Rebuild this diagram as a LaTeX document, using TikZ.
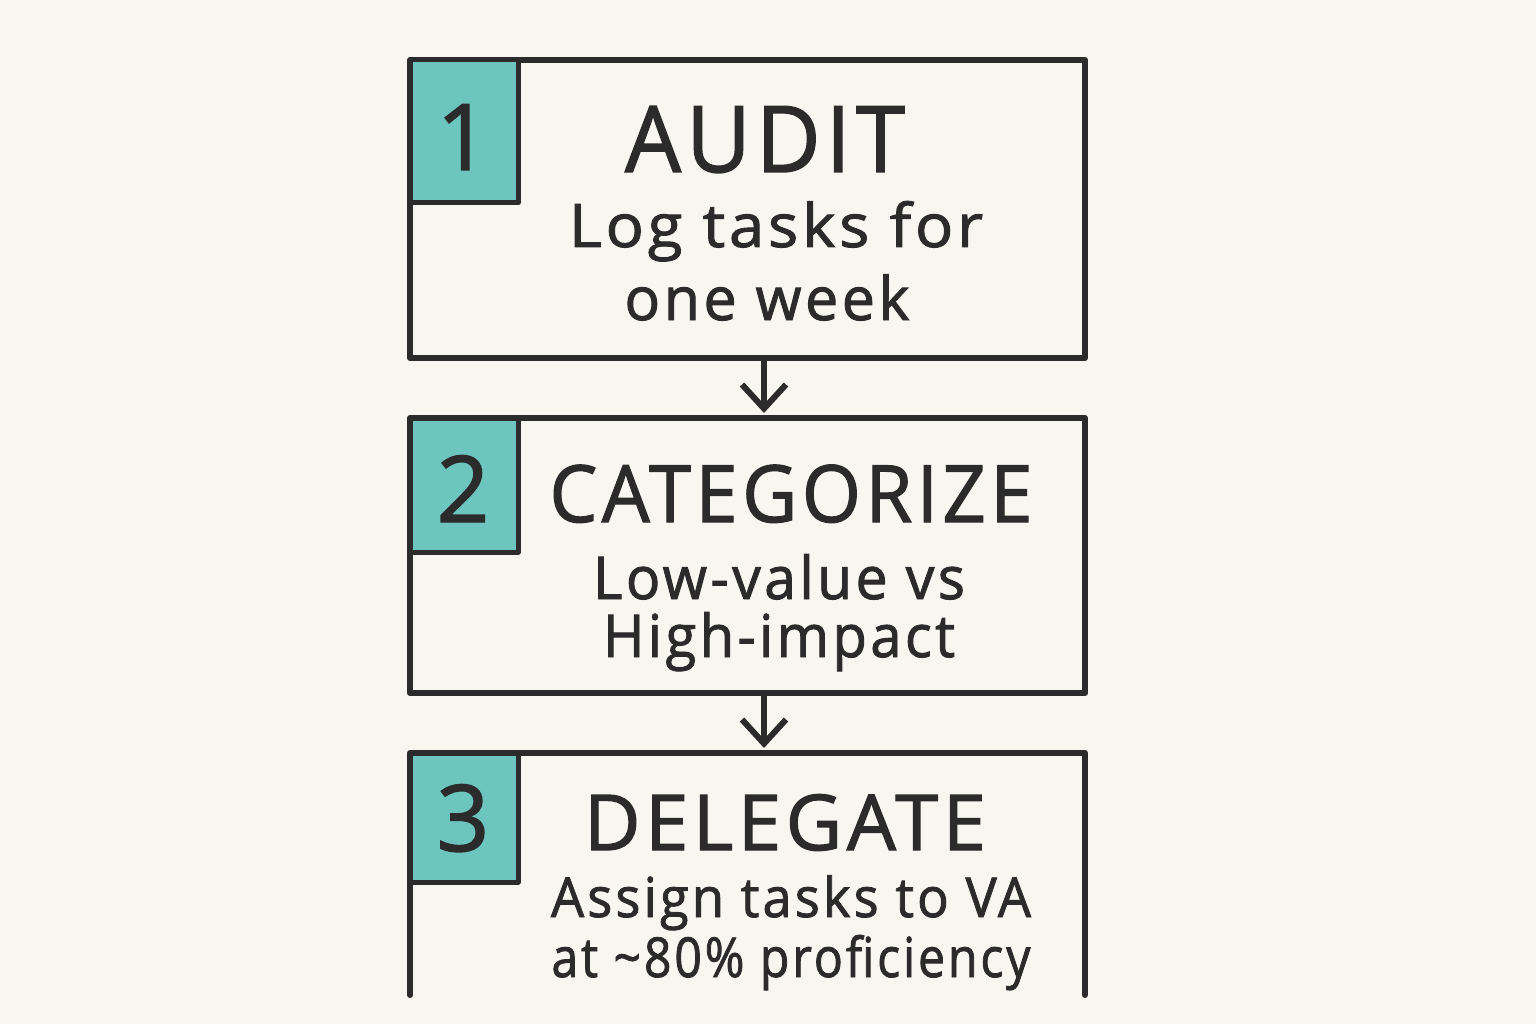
\documentclass[tikz,border=0pt]{standalone}
\usepackage{fontspec}
\setmainfont{Open Sans}[FakeBold=1.6, LetterSpace=6]
\usetikzlibrary{arrows.meta}
\definecolor{bg}{HTML}{F8F6F1}
\definecolor{teal}{HTML}{6CC5BE}
\definecolor{ink}{HTML}{2B2B2B}
\newcommand{\fitw}[2]{\resizebox{#1}{\height}{#2}}
\tikzset{
  boxline/.style={draw=ink, line width=6pt, line cap=round, line join=round},
  numsq/.style={fill=teal, draw=ink, line width=5pt, line join=round},
  numtxt/.style={text=ink, anchor=base, inner sep=0pt, font=\fontsize{92}{96}\selectfont},
  titletxt/.style={text=ink, anchor=base, inner sep=0pt},
  bodytxt/.style={text=ink, anchor=base, inner sep=0pt},
  flowarrow/.style={draw=ink, line width=6pt, line cap=round, -{Straight Barb[length=24pt, width=44pt, line width=6pt]}}
}
\begin{document}
\begin{tikzpicture}[x=1pt, y=-1pt]
\useasboundingbox[fill=bg] (0,0) rectangle (1536,1024);
% box 1
\draw[boxline] (410,60) rectangle (1085,358);
\draw[numsq] (410,60) rectangle (518,203);
\node[numtxt] (n1) at (463,170) {1};
\node[titletxt, font=\fontsize{92}{96}\selectfont] (t1) at (765,172) {\fitw{280pt}{AUDIT}};
\node[bodytxt, font=\fontsize{60}{66}\selectfont] (b1a) at (776,247) {\fitw{414pt}{Log tasks for}};
\node[bodytxt, font=\fontsize{60}{66}\selectfont] (b1b) at (767,320) {\fitw{285pt}{one week}};
% box 2
\draw[boxline] (410,418) rectangle (1085,693);
\draw[numsq] (410,418) rectangle (518,552);
\node[numtxt] (n2) at (463,522) {2};
\node[titletxt, font=\fontsize{79}{84}\selectfont] (t2) at (791,522) {\fitw{483pt}{CATEGORIZE}};
\node[bodytxt, font=\fontsize{59}{66}\selectfont] (b2a) at (779,599) {\fitw{372pt}{Low-value vs}};
\node[bodytxt, font=\fontsize{59}{66}\selectfont] (b2b) at (779,657) {\fitw{352pt}{High-impact}};
% box 3
\draw[boxline] (410,995) -- (410,753) -- (1085,753) -- (1085,995);
\draw[numsq] (410,753) rectangle (518,882);
\node[numtxt] (n3) at (463,851) {3};
\node[titletxt, font=\fontsize{77}{80}\selectfont] (t3) at (785,850) {\fitw{402pt}{DELEGATE}};
\node[bodytxt, font=\fontsize{55}{60}\selectfont] (b3a) at (791,917) {\fitw{480pt}{Assign tasks to VA}};
\node[bodytxt, font=\fontsize{55}{60}\selectfont] (b3b) at (791,977) {\fitw{479pt}{at \textasciitilde 80\% proficiency}};
% arrows
\coordinate (a1s) at (764,358);
\coordinate (a1e) at (764,413);
\coordinate (a2s) at (764,693);
\coordinate (a2e) at (764,748);
\draw[flowarrow] (a1s) -- (a1e);
\draw[flowarrow] (a2s) -- (a2e);
\end{tikzpicture}
\end{document}
